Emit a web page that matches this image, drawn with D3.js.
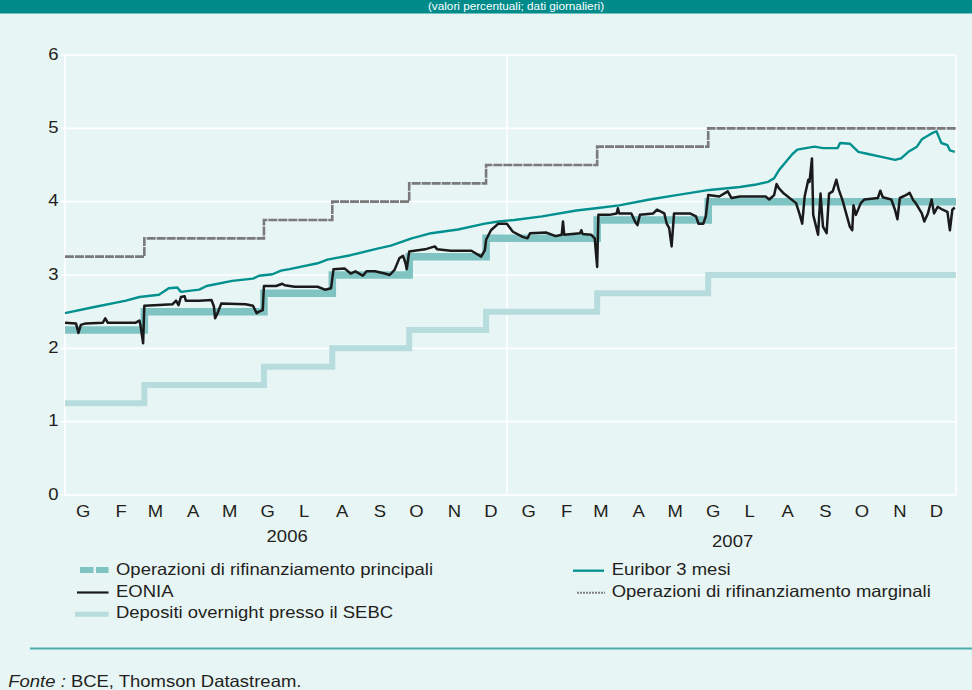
<!DOCTYPE html>
<html>
<head>
<meta charset="utf-8">
<script src="https://cdn.jsdelivr.net/npm/d3@7"></script>
<style>
  html, body { margin: 0; padding: 0; background: #E8F5F5; }
  svg { display: block; }
</style>
</head>
<body>
<svg id="chart" width="972" height="690"></svg>
<script>
// ---------- DATA ----------
const monthLabels = ["G","F","M","A","M","G","L","A","S","O","N","D"];
const years = ["2006", "2007"];
const yTicks = [0, 1, 2, 3, 4, 5, 6];

// Official ECB rates (step changes)
const policyDates = ["2006-01-01","2006-03-07","2006-06-13","2006-08-08","2006-10-10","2006-12-12","2007-03-13","2007-06-12","2008-01-01"];
const mroValues      = [2.25, 2.50, 2.75, 3.00, 3.25, 3.50, 3.75, 4.00, 4.00];
const depositValues  = [1.25, 1.50, 1.75, 2.00, 2.25, 2.50, 2.75, 3.00, 3.00];
const marginalValues = [3.25, 3.50, 3.75, 4.00, 4.25, 4.50, 4.75, 5.00, 5.00];

// Euribor 3 mesi
const euriborDates = ["2006-01-01","2006-01-24","2006-02-20","2006-03-03","2006-03-19","2006-03-27","2006-04-03","2006-04-06","2006-04-21","2006-04-27","2006-05-18","2006-06-04","2006-06-09","2006-06-20","2006-06-27","2006-07-04","2006-07-27","2006-08-04","2006-08-23","2006-09-14","2006-09-25","2006-10-12","2006-10-28","2006-11-19","2006-12-11","2006-12-22","2007-01-04","2007-01-27","2007-02-24","2007-03-12","2007-03-31","2007-04-25","2007-05-17","2007-06-13","2007-07-08","2007-07-20","2007-07-31","2007-08-05","2007-08-09","2007-08-15","2007-08-20","2007-08-24","2007-09-07","2007-09-14","2007-09-26","2007-09-28","2007-10-06","2007-10-13","2007-10-21","2007-11-01","2007-11-12","2007-11-17","2007-11-23","2007-11-30","2007-12-04","2007-12-12","2007-12-16","2007-12-18","2007-12-20","2007-12-25","2007-12-27","2007-12-31"];
const euriborValues = [2.48,2.56,2.65,2.70,2.73,2.82,2.83,2.77,2.80,2.85,2.92,2.95,2.99,3.01,3.06,3.08,3.16,3.21,3.27,3.36,3.40,3.50,3.57,3.62,3.70,3.73,3.75,3.80,3.88,3.91,3.95,4.03,4.09,4.16,4.20,4.23,4.27,4.32,4.43,4.55,4.65,4.71,4.75,4.73,4.73,4.80,4.79,4.68,4.65,4.61,4.57,4.59,4.68,4.75,4.85,4.93,4.96,4.88,4.80,4.77,4.70,4.68];

// EONIA
const eoniaDates = ["2006-01-01","2006-01-10","2006-01-12","2006-01-14","2006-01-18","2006-02-01","2006-02-03","2006-02-05","2006-02-28","2006-03-03","2006-03-04","2006-03-06","2006-03-07","2006-03-19","2006-03-30","2006-04-02","2006-04-04","2006-04-06","2006-04-09","2006-04-10","2006-04-21","2006-05-01","2006-05-03","2006-05-04","2006-05-06","2006-05-09","2006-05-29","2006-06-04","2006-06-07","2006-06-09","2006-06-12","2006-06-13","2006-06-23","2006-06-28","2006-06-30","2006-07-08","2006-07-27","2006-08-02","2006-08-07","2006-08-09","2006-08-18","2006-08-23","2006-08-27","2006-09-02","2006-09-05","2006-09-12","2006-09-20","2006-09-24","2006-09-28","2006-10-02","2006-10-05","2006-10-07","2006-10-08","2006-10-10","2006-10-23","2006-10-31","2006-11-02","2006-11-13","2006-11-30","2006-12-08","2006-12-11","2006-12-12","2006-12-16","2006-12-22","2006-12-29","2007-01-02","2007-01-03","2007-01-11","2007-01-15","2007-01-17","2007-01-30","2007-02-07","2007-02-12","2007-02-13","2007-02-14","2007-02-27","2007-02-28","2007-03-01","2007-03-08","2007-03-11","2007-03-13","2007-03-14","2007-03-23","2007-03-29","2007-03-30","2007-03-31","2007-04-10","2007-04-13","2007-04-15","2007-04-17","2007-04-28","2007-05-01","2007-05-07","2007-05-09","2007-05-11","2007-05-13","2007-05-15","2007-05-28","2007-06-02","2007-06-04","2007-06-08","2007-06-10","2007-06-12","2007-06-21","2007-06-28","2007-07-01","2007-07-08","2007-07-29","2007-08-01","2007-08-05","2007-08-07","2007-08-09","2007-08-13","2007-08-23","2007-08-26","2007-08-28","2007-08-30","2007-09-02","2007-09-03","2007-09-05","2007-09-06","2007-09-10","2007-09-12","2007-09-14","2007-09-17","2007-09-19","2007-09-22","2007-09-25","2007-09-27","2007-09-30","2007-10-03","2007-10-06","2007-10-08","2007-10-09","2007-10-11","2007-10-15","2007-10-18","2007-10-29","2007-10-31","2007-11-02","2007-11-09","2007-11-12","2007-11-14","2007-11-16","2007-11-21","2007-11-24","2007-11-27","2007-11-29","2007-12-04","2007-12-06","2007-12-09","2007-12-12","2007-12-14","2007-12-17","2007-12-21","2007-12-25","2007-12-27","2007-12-29","2007-12-31"];
const eoniaValues = [2.35,2.34,2.21,2.32,2.34,2.35,2.41,2.35,2.35,2.38,2.30,2.07,2.58,2.59,2.60,2.65,2.59,2.70,2.71,2.65,2.65,2.66,2.57,2.41,2.48,2.61,2.60,2.58,2.48,2.50,2.52,2.85,2.85,2.88,2.86,2.84,2.84,2.80,2.82,3.08,3.09,3.02,3.05,2.99,3.05,3.05,3.02,3.00,3.07,3.23,3.26,3.16,3.08,3.32,3.35,3.39,3.35,3.33,3.33,3.25,3.34,3.48,3.61,3.70,3.70,3.61,3.59,3.52,3.50,3.57,3.58,3.53,3.55,3.73,3.55,3.57,3.61,3.56,3.55,3.50,3.11,3.82,3.82,3.84,3.91,3.84,3.84,3.73,3.68,3.82,3.84,3.89,3.84,3.70,3.64,3.39,3.84,3.84,3.80,3.70,3.70,3.80,4.09,4.07,4.14,4.05,4.07,4.07,4.03,4.09,4.24,4.18,4.11,3.98,3.82,3.70,4.07,4.30,4.27,4.59,3.82,3.55,4.11,3.66,3.57,4.11,4.14,4.30,4.16,4.02,3.84,3.66,3.61,3.95,3.82,3.98,4.03,4.05,4.15,4.06,4.03,3.89,3.76,4.05,4.09,4.12,4.02,3.98,3.84,3.73,3.84,4.03,3.84,3.93,3.89,3.86,3.61,3.89,3.92];

const seriesNames = {
  mro: "Operazioni di rifinanziamento principali",
  eonia: "EONIA",
  deposit: "Depositi overnight presso il SEBC",
  euribor: "Euribor 3 mesi",
  marginal: "Operazioni di rifinanziamento marginali"
};
const headerText = "(valori percentuali; dati giornalieri)";
const sourceLabel = "Fonte :";
const sourceText = " BCE, Thomson Datastream.";
const yearDivider = "2006-12-29";

// ---------- DRAWING ----------
const parse = d3.timeParse("%Y-%m-%d");
const svg = d3.select("#chart");
const FONT = "'Liberation Sans', Arial, Helvetica, sans-serif";
const FS = 16.5, SX = 1.12, TXT = "#231F20";

const x = d3.scaleTime().domain([parse("2006-01-01"), parse("2008-01-01")]).range([65, 956]);
const y = d3.scaleLinear().domain([0, 6]).range([495, 55]);

function addText(g, tx, ty, str, anchor, extra) {
  const t = g.append("text")
    .attr("transform", `translate(${tx},${ty}) scale(${SX},1)`)
    .attr("text-anchor", anchor || "start")
    .attr("font-family", FONT)
    .attr("font-size", FS)
    .attr("fill", TXT)
    .text(str);
  if (extra) extra(t);
  return t;
}

// background
svg.append("rect").attr("width", 972).attr("height", 690).attr("fill", "#E8F5F5");
// header band
svg.append("rect").attr("x", 0).attr("y", 0).attr("width", 972).attr("height", 13.5).attr("fill", "#008B8B");
addText(svg, 516, 10.2, headerText, "middle", t => t.attr("fill", "#FFFFFF").attr("font-size", 10.5));

// grid
const grid = svg.append("g");
grid.selectAll("line.h").data(yTicks).join("line")
  .attr("x1", 61).attr("x2", x.range()[1])
  .attr("y1", d => y(d)).attr("y2", d => y(d))
  .attr("stroke", "#FFFFFF").attr("stroke-width", 1.6);
[x.range()[0], x(parse(yearDivider)), x.range()[1]].forEach(xv => {
  grid.append("line").attr("x1", xv).attr("x2", xv).attr("y1", y(6)).attr("y2", y(0))
    .attr("stroke", "#FFFFFF").attr("stroke-width", 1.6);
});

// y tick labels
yTicks.forEach(v => addText(svg, 58.5, y(v) + 4.5, String(v), "end"));

// x labels
years.forEach((yr, i) => {
  monthLabels.forEach((m, j) => {
    const mid = new Date(+yr, j, 16);
    addText(svg, x(mid), 516.7, m, "middle");
  });
  addText(svg, x(new Date(+yr, 6, 2)), i === 0 ? 541.7 : 546.7, yr, "middle");
});

// series
const stepLine = d3.line().x(d => x(d[0])).y(d => y(d[1])).curve(d3.curveStepAfter);
const line = d3.line().x(d => x(d[0])).y(d => y(d[1]));
const zip = (ds, vs) => ds.map((d, i) => [parse(d), vs[i]]);

const plot = svg.append("g").attr("fill", "none");
plot.append("path").attr("d", stepLine(zip(policyDates, depositValues)))
  .attr("stroke", "#B7DCDD").attr("stroke-width", 6);
plot.append("path").attr("d", stepLine(zip(policyDates, mroValues)))
  .attr("stroke", "#7FC3C3").attr("stroke-width", 7.5);
plot.append("path").attr("d", stepLine(zip(policyDates, marginalValues)))
  .attr("stroke", "#7A7A7A").attr("stroke-width", 2.6).attr("stroke-dasharray", "9,1");
plot.append("path").attr("d", line(zip(euriborDates, euriborValues)))
  .attr("stroke", "#00918F").attr("stroke-width", 2.4).attr("stroke-linejoin", "round");
plot.append("path").attr("d", line(zip(eoniaDates, eoniaValues)))
  .attr("stroke", "#1A1A1A").attr("stroke-width", 2.5).attr("stroke-linejoin", "round");

// legend
const lg = svg.append("g");
lg.append("line").attr("x1", 80).attr("x2", 108.5).attr("y1", 570).attr("y2", 570)
  .attr("stroke", "#7FC3C3").attr("stroke-width", 6).attr("stroke-dasharray", "13.5,2.5");
addText(lg, 116, 575, seriesNames.mro, "start");
lg.append("line").attr("x1", 77).attr("x2", 108.5).attr("y1", 592.5).attr("y2", 592.5)
  .attr("stroke", "#1A1A1A").attr("stroke-width", 2.2);
addText(lg, 116, 596.7, seriesNames.eonia, "start");
lg.append("line").attr("x1", 75).attr("x2", 108.5).attr("y1", 614.3).attr("y2", 614.3)
  .attr("stroke", "#B7DCDD").attr("stroke-width", 5);
addText(lg, 116, 618.3, seriesNames.deposit, "start");
lg.append("line").attr("x1", 573).attr("x2", 604).attr("y1", 570.7).attr("y2", 570.7)
  .attr("stroke", "#00918F").attr("stroke-width", 2.3);
addText(lg, 611.7, 575, seriesNames.euribor, "start");
lg.append("line").attr("x1", 577).attr("x2", 605).attr("y1", 592.7).attr("y2", 592.7)
  .attr("stroke", "#808080").attr("stroke-width", 2).attr("stroke-dasharray", "2,1");
addText(lg, 611.7, 596.7, seriesNames.marginal, "start");

// separator
svg.append("line").attr("x1", 30).attr("x2", 972).attr("y1", 648.5).attr("y2", 648.5)
  .attr("stroke", "#4DAEAE").attr("stroke-width", 2);

// source
const src = addText(svg, 8.3, 686.7, "", "start");
src.append("tspan").attr("font-style", "italic").text(sourceLabel);
src.append("tspan").text(sourceText);
</script>
</body>
</html>
